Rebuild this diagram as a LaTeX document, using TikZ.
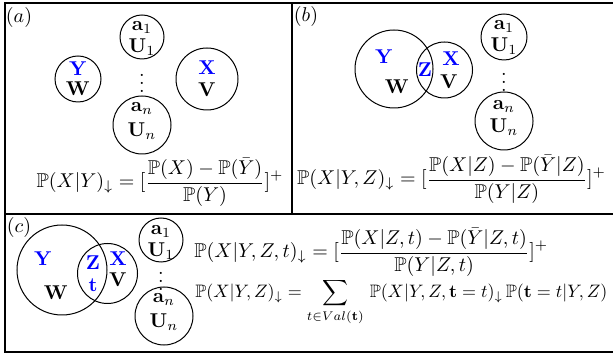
\documentclass[tikz,border=0pt]{standalone}
\usepackage{amsmath,amssymb}
\begin{document}
\begin{tikzpicture}[x=0.5pt,y=-0.5pt,
  circ/.style={draw,circle,line width=0.5pt,inner sep=0pt},
  lbl/.style={inner sep=0pt,font=\fontsize{10}{12}\selectfont},
  bl/.style={lbl,text=blue},
  frm/.style={line width=0.8pt},
  eq/.style={inner sep=0pt,font=\fontsize{10}{12}\selectfont}]
\useasboundingbox (0,0) rectangle (613,356);
% frame
\draw[frm] (5,3) rectangle (618,352);
\draw[frm] (5,214) -- (618,214);
\draw[frm] (292,3) -- (292,214);
% ---------- panel (a)
\node[lbl] (la) at (19,18) {$(a)$};
\node[circ,minimum size=23pt] (ayw) at (78,79) {};
\node[bl] (ay) at (78,69) {$\mathbf{Y}$};
\node[lbl] (aw) at (78,89) {$\mathbf{W}$};
\node[circ,minimum size=22pt] (aa1) at (142,37) {};
\node[lbl] (aa1t) at (142,28) {$\mathbf{a}_1$};
\node[lbl] (au1t) at (142,47) {$\mathbf{U}_1$};
\node[lbl] (adots) at (142,77) {$\vdots$};
\node[circ,minimum size=29pt] (aan) at (142,125) {};
\node[lbl] (aant) at (142,109) {$\mathbf{a}_n$};
\node[lbl] (aunt) at (142,131) {$\mathbf{U}_n$};
\node[circ,minimum size=31pt] (axv) at (207,79) {};
\node[bl] (ax) at (207,68) {$\mathbf{X}$};
\node[lbl] (av) at (207,90) {$\mathbf{V}$};
\node[eq,anchor=base] (eqa) at (160,188) {$\displaystyle \mathbb{P}(X|Y)_\downarrow=[\frac{\mathbb{P}(X)-\mathbb{P}(\bar{Y})}{\mathbb{P}(Y)}]^+$};
% ---------- panel (b)
\node[lbl] (lb) at (306,17) {$(b)$};
\node[circ,minimum size=39pt] (byw) at (394,69) {};
\node[circ,minimum size=28pt] (bxv) at (444.5,70) {};
\node[bl] (by) at (384,57) {$\mathbf{Y}$};
\node[lbl] (bw) at (397,87) {$\mathbf{W}$};
\node[bl] (bz) at (425,70) {$\mathbf{Z}$};
\node[bl] (bx) at (451,59) {$\mathbf{X}$};
\node[lbl] (bv) at (449,82) {$\mathbf{V}$};
\node[circ,minimum size=23pt] (ba1) at (504,37) {};
\node[lbl] (ba1t) at (504,27) {$\mathbf{a}_1$};
\node[lbl] (bu1t) at (504,46) {$\mathbf{U}_1$};
\node[lbl] (bdots) at (504,76) {$\vdots$};
\node[circ,minimum size=29pt] (ban) at (504,121) {};
\node[lbl] (bant) at (504,107) {$\mathbf{a}_n$};
\node[lbl] (bunt) at (504,127) {$\mathbf{U}_n$};
\node[eq,anchor=base] (eqb) at (451.5,185) {$\displaystyle \mathbb{P}(X|Y,Z)_\downarrow=[\frac{\mathbb{P}(X|Z)-\mathbb{P}(\bar{Y}|Z)}{\mathbb{P}(Y|Z)}]^+$};
% ---------- panel (c)
\node[lbl] (lc) at (19,228) {$(c)$};
\node[circ,minimum size=45pt] (cyw) at (62,270) {};
\node[circ,minimum size=30pt] (cxv) at (107.5,273.5) {};
\node[bl] (cy) at (43,259) {$\mathbf{Y}$};
\node[lbl] (cw) at (56,293) {$\mathbf{W}$};
\node[bl] (cz) at (93,263) {$\mathbf{Z}$};
\node[bl] (ct) at (93,285) {$\mathbf{t}$};
\node[bl] (cx) at (118,259) {$\mathbf{X}$};
\node[lbl] (cv) at (118,280) {$\mathbf{V}$};
\node[circ,minimum size=22pt] (ca1) at (161,240) {};
\node[lbl] (ca1t) at (161,232) {$\mathbf{a}_1$};
\node[lbl] (cu1t) at (161,251) {$\mathbf{U}_1$};
\node[lbl] (cdots) at (161,275) {$\vdots$};
\node[circ,minimum size=29pt] (can) at (164,316) {};
\node[lbl] (cant) at (164,300) {$\mathbf{a}_n$};
\node[lbl] (cunt) at (164,322) {$\mathbf{U}_n$};
\node[eq,anchor=base west] (eqc1) at (194,258) {$\displaystyle \mathbb{P}(X|Y,Z,t)_\downarrow=[\frac{\mathbb{P}(X|Z,t)-\mathbb{P}(\bar{Y}|Z,t)}{\mathbb{P}(Y|Z,t)}]^+$};
\node[eq,anchor=west] (eqc2) at (195,302) {\resizebox{206pt}{!}{$\displaystyle \mathbb{P}(X|Y,Z)_\downarrow=\sum_{t\in Val(\mathbf{t})}\,\mathbb{P}(X|Y,Z,\mathbf{t}=t)_\downarrow\,\mathbb{P}(\mathbf{t}=t|Y,Z)$}};
\end{tikzpicture}
\end{document}
